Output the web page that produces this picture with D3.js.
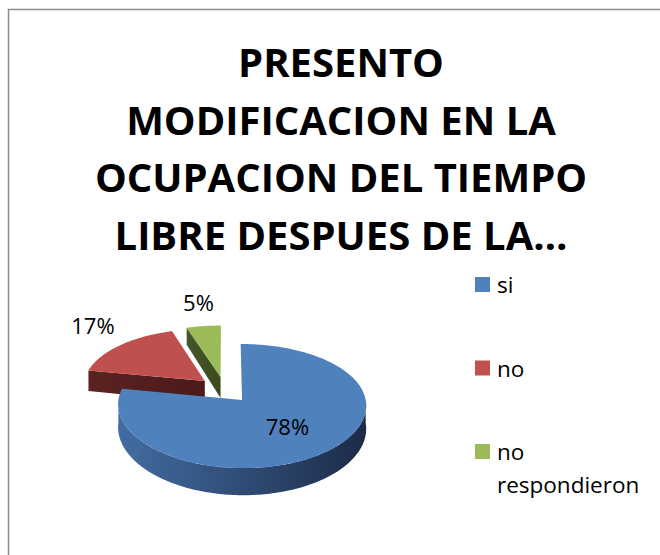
<!DOCTYPE html>
<html>

<head>
    <meta charset="utf-8">
    <title>Presento modificacion</title>
    <script src="https://d3js.org/d3.v7.min.js"></script>
    <style>
        body {
            margin: 0;
            background: #fff;
        }

        text {
            font-family: "Open Sans", "DejaVu Sans", sans-serif;
        }
    </style>
</head>

<body>
    <svg width="660" height="555"></svg>

    <script>
        // chart data
        const titleLines = ["PRESENTO", "MODIFICACION EN LA", "OCUPACION DEL TIEMPO", "LIBRE DESPUES DE LA…"];
        const categories = ["si", "no", "no respondieron"];
        const values = [78, 17, 5];

        // styles
        const topColors = ["#4f81bd", "#c0504d", "#9bbb59"];
        const sideColors = [["#426da2", "#1c2b47"], ["#5a2322", "#4a1a19"], ["#44562a", "#3a4a1c"]];

        const svg = d3.select("svg"),
            width = +svg.attr("width"),
            height = +svg.attr("height");

        // frame
        svg.append("rect")
            .attr("x", 8.5).attr("y", 9.5)
            .attr("width", width + 20).attr("height", height + 20)
            .attr("fill", "#fff")
            .attr("stroke", "#8c8c8c")
            .attr("stroke-width", 1.5);

        // title
        const titleY = d3.scalePoint().domain(d3.range(titleLines.length)).range([77, 250]);
        svg.append("g").selectAll("text")
            .data(titleLines)
            .join("text")
            .attr("x", 341)
            .attr("y", (d, i) => titleY(i))
            .attr("text-anchor", "middle")
            .attr("font-size", 40)
            .attr("font-weight", "bold")
            .text(d => d);

        // 3d pie with a bit of perspective
        const cx = 224.7, cy = 389.7, rx = 122, ry = 60;
        const kx = 0.08, ky = 0.1, explode = 0.22;
        const depthOf = v => 22 * (1 + 0.2 * v);

        function project(u, v) {
            return [cx + rx * u * (1 + kx * v), cy + ry * (v + ky * v * v)];
        }
        // world point on slice d at angle a, radius r
        function world(d, a, r) {
            const m = (d.startAngle + d.endAngle) / 2;
            return [explode * Math.sin(m) + r * Math.sin(a), -explode * Math.cos(m) - r * Math.cos(a)];
        }
        function pt(d, a, r, down) {
            const w = world(d, a, r);
            const p = project(w[0], w[1]);
            if (down) p[1] += depthOf(w[1]);
            return p;
        }
        function arcPts(d, a0, a1, down) {
            const n = Math.max(2, Math.ceil((a1 - a0) / 0.02));
            return d3.range(n + 1).map(i => pt(d, a0 + (a1 - a0) * i / n, 1, down));
        }
        const line = d3.line();

        const pie = d3.pie().sort(null).value(d => d)
            .startAngle(0).endAngle(2 * Math.PI);
        const arcs = pie(values);

        const defs = svg.append("defs");
        arcs.forEach((d, i) => {
            const g = defs.append("linearGradient")
                .attr("id", "side" + i)
                .attr("x1", "0").attr("x2", "1").attr("y1", "0").attr("y2", "0");
            g.append("stop").attr("offset", "0").attr("stop-color", sideColors[i][0]);
            g.append("stop").attr("offset", "1").attr("stop-color", sideColors[i][1]);
        });

        // back slices first, the big one last
        const order = [1, 2, 0];
        const pieG = svg.append("g");
        order.forEach(i => {
            const d = arcs[i];
            const g = pieG.append("g");
            const a0 = d.startAngle, a1 = d.endAngle;

            // radial face on the leading edge
            if (Math.sin(a0) < -1e-6) {
                const c = pt(d, a0, 0, false), r = pt(d, a0, 1, false);
                const rb = pt(d, a0, 1, true), cb = pt(d, a0, 0, true);
                g.append("path")
                    .attr("d", line([c, r, rb, cb]) + "Z")
                    .attr("fill", `url(#side${i})`);
            }
            // radial face on the trailing edge
            if (Math.sin(a1) > 1e-6) {
                const c = pt(d, a1, 0, false), r = pt(d, a1, 1, false);
                const rb = pt(d, a1, 1, true), cb = pt(d, a1, 0, true);
                g.append("path")
                    .attr("d", line([c, r, rb, cb]) + "Z")
                    .attr("fill", `url(#side${i})`);
            }
            // outer wall, front half only
            const s = Math.max(a0, Math.PI / 2), e = Math.min(a1, 3 * Math.PI / 2);
            if (e > s) {
                const topEdge = arcPts(d, s, e, false);
                const botEdge = arcPts(d, s, e, true).reverse();
                g.append("path")
                    .attr("d", line(topEdge.concat(botEdge)) + "Z")
                    .attr("fill", `url(#side${i})`);
            }
            // top face
            const face = [pt(d, a0, 0, false)].concat(arcPts(d, a0, a1, false));
            g.append("path")
                .attr("d", line(face) + "Z")
                .attr("fill", topColors[i]);
        });

        // data labels
        svg.append("g").selectAll("text")
            .data(arcs)
            .join("text")
            .attr("transform", d => {
                const m = (d.startAngle + d.endAngle) / 2;
                const inside = d.value > 50;
                const w = world(d, m, inside ? 0.55 : 1.35);
                const p = project(w[0], w[1]);
                return `translate(${p[0]},${p[1] - (inside ? 0 : 8)})`;
            })
            .attr("text-anchor", "middle")
            .attr("dy", "0.35em")
            .attr("font-size", 22)
            .attr("fill", "#000")
            .text(d => d.value + "%");

        // legend
        const legendY = d3.scalePoint().domain(categories).range([277, 444]);
        const legend = svg.append("g").selectAll("g")
            .data(categories)
            .join("g")
            .attr("transform", d => `translate(475,${legendY(d)})`);

        legend.append("rect")
            .attr("width", 15).attr("height", 15)
            .attr("fill", (d, i) => topColors[i]);

        // long names wrap after the first word
        legend.append("text")
            .attr("x", 22)
            .attr("y", 16)
            .attr("font-size", 22.5)
            .attr("fill", "#000")
            .selectAll("tspan")
            .data(d => {
                const words = d.split(" ");
                return words.length > 1 ? [words[0], words.slice(1).join(" ")] : [d];
            })
            .join("tspan")
            .attr("x", 22)
            .attr("dy", (d, i) => i ? 33 : 0)
            .text(d => d);
    </script>

</body>

</html>
